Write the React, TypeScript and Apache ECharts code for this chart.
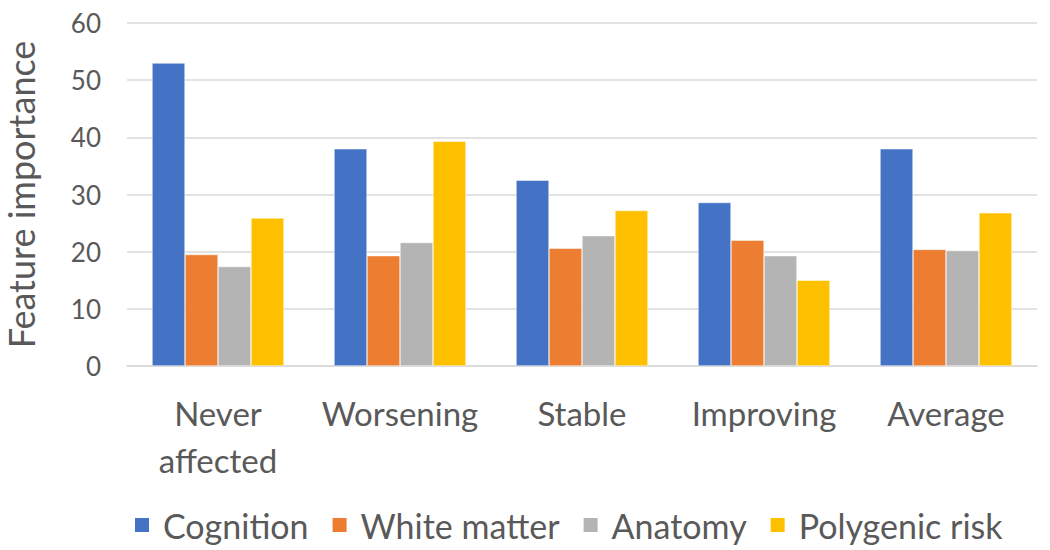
import React, { useEffect, useRef } from "react";
import * as echarts from "echarts";

const categories = ["Never\naffected", "Worsening", "Stable", "Improving", "Average"];
const seriesNames = ["Cognition", "White matter", "Anatomy", "Polygenic risk"];
const cognition = [53.0, 38.0, 32.5, 28.6, 38.0];
const whiteMatter = [19.5, 19.3, 20.6, 22.0, 20.4];
const anatomy = [17.4, 21.6, 22.8, 19.3, 20.2];
const polygenicRisk = [25.9, 39.3, 27.2, 15.0, 26.8];
const colors = ["#4472C4", "#ED7D31", "#B4B4B4", "#FFC000"];
const yTicks = { min: 0, max: 60, interval: 10 };

const FONT = "Lato, 'Noto Sans', sans-serif";

export default function App() {
  const ref = useRef<HTMLDivElement>(null);
  useEffect(() => {
    const chart = echarts.init(ref.current!, null, { renderer: "svg" });
    const values = [cognition, whiteMatter, anatomy, polygenicRisk];
    chart.setOption({
      animation: false,
      color: colors,
      textStyle: { fontFamily: FONT },
      grid: { left: 127, right: 13, top: 23, bottom: 184, containLabel: false, outerBoundsMode: "none" },
      legend: {
        top: 503,
        left: 128,
        itemWidth: 16,
        itemHeight: 16,
        itemGap: 22,
        icon: "rect",
        textStyle: { fontSize: 34, color: "#595959", fontFamily: FONT, padding: [0, 0, 0, 8] },
        data: seriesNames,
      },
      xAxis: {
        type: "category",
        data: categories,
        axisLine: { lineStyle: { color: "#D9D9D9", width: 1.5 } },
        axisTick: { show: false },
        axisLabel: {
          interval: 0,
          hideOverlap: false,
          fontSize: 33,
          color: "#595959",
          margin: 23,
          lineHeight: 47,
          fontFamily: FONT,
        },
      },
      yAxis: {
        type: "value",
        min: yTicks.min,
        max: yTicks.max,
        interval: yTicks.interval,
        name: "Feature importance",
        nameLocation: "middle",
        nameGap: 88,
        nameTextStyle: { fontSize: 36, color: "#595959", fontFamily: FONT },
        axisLine: { show: false },
        axisTick: { show: false },
        axisLabel: { fontSize: 26, color: "#595959", margin: 26, fontFamily: FONT },
        splitLine: { lineStyle: { color: "#D9D9D9", width: 1.5 } },
      },
      series: seriesNames.map((name, i) => ({
        name,
        type: "bar",
        data: values[i],
        barGap: "0%",
        barCategoryGap: "27.5%",
        itemStyle: { color: colors[i], borderColor: "#ffffff", borderWidth: 0.5 },
      })),
    });
    return () => chart.dispose();
  }, []);
  return (
    <div
      ref={ref}
      style={{ position: "fixed", left: 0, top: 0, width: 1050, height: 550, background: "#fff" }}
    />
  );
}
